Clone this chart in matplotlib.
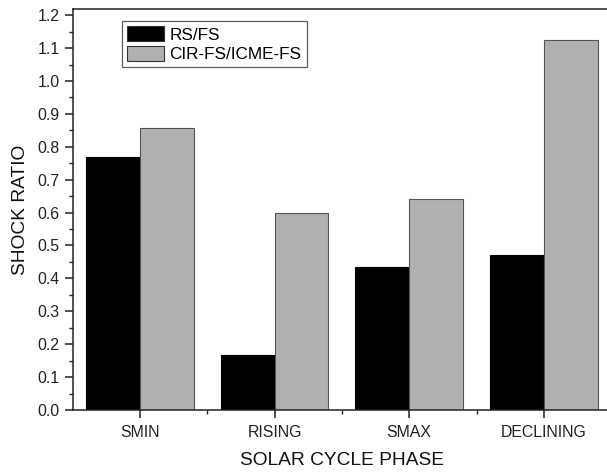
import numpy as np
import matplotlib
matplotlib.use("Agg")
import matplotlib.pyplot as plt
from matplotlib.ticker import MultipleLocator, FixedLocator

plt.rcParams['font.family'] = ['Liberation Sans', 'DejaVu Sans']

phases = ['SMIN', 'RISING', 'SMAX', 'DECLINING']
rs_fs = [0.77, 0.167, 0.435, 0.47]
cir_icme = [0.857, 0.60, 0.642, 1.125]

fig = plt.figure(figsize=(6.07, 4.72), dpi=100)
# right spine falls just outside the picture, as in the original
ax = fig.add_axes([0.1198, 0.1314, 0.887, 0.849])

x = np.arange(1, len(phases) + 1)
w = 0.4
ax.bar(x - w / 2, rs_fs, w, color='black', edgecolor='black', linewidth=0.8,
       label='RS/FS')
ax.bar(x + w / 2, cir_icme, w, color='#b0b0b0', edgecolor='#555555',
       linewidth=0.8, label='CIR-FS/ICME-FS')

ax.set_xlim(0.5, 4.5)
ax.set_ylim(0, 1.218)
ax.set_xticks(x)
ax.set_xticklabels(phases)
ax.xaxis.set_minor_locator(FixedLocator([1.5, 2.5, 3.5]))
ax.yaxis.set_major_locator(MultipleLocator(0.1))
ax.yaxis.set_minor_locator(MultipleLocator(0.05))
ax.yaxis.set_major_formatter(plt.FormatStrFormatter('%.1f'))

ax.tick_params(which='major', direction='out', length=6, width=1.1,
               labelsize=11.4, pad=3.5, colors='#222222')
ax.tick_params(which='minor', direction='out', length=3, width=1.0,
               colors='#222222')
ax.tick_params(axis='x', which='major', pad=4.5)
for s in ax.spines.values():
    s.set_linewidth(1.1)
    s.set_color('#222222')

ax.set_xlabel('SOLAR CYCLE PHASE', fontsize=13.8, labelpad=9, color='#111111')
ax.set_ylabel('SHOCK RATIO', fontsize=13.8, labelpad=6, color='#111111')

leg = ax.legend(loc='upper left', bbox_to_anchor=(0.091, 0.97), fontsize=12.3,
                frameon=True, fancybox=False, borderpad=0.3,
                handlelength=2.15, handleheight=0.95, handletextpad=0.35,
                labelspacing=0.2, borderaxespad=0)
leg.get_frame().set_edgecolor('#333333')
leg.get_frame().set_linewidth(0.9)
for h in leg.legend_handles:
    h.set_edgecolor('#333333')

fig.savefig('out.png', dpi=100)
